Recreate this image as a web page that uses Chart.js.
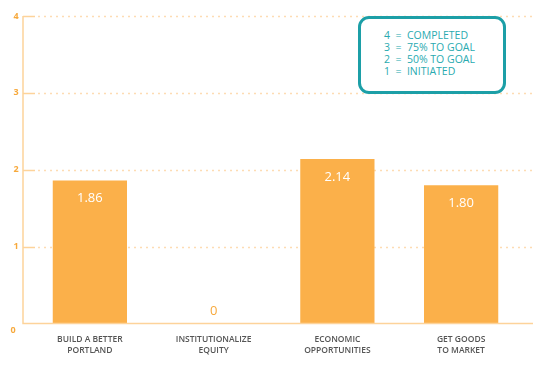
<!DOCTYPE html>
<html>
<head>
<meta charset="utf-8">
<script src="https://cdn.jsdelivr.net/npm/chart.js@4/dist/chart.umd.min.js"></script>
<style>
  html, body { margin: 0; padding: 0; background: #ffffff; }
  #wrap { position: relative; width: 540px; height: 367px; }
  canvas { display: block; }
  #legendBox {
    position: absolute; left: 358px; top: 16px; width: 142px; height: 72px;
    border: 3px solid #1c9fa7; border-radius: 11px; background: #fff;
    font-family: "Open Sans", sans-serif; font-size: 10.5px; color: #29aab0;
    line-height: 12px; box-sizing: content-box;
  }
  #legendBox .inner { position: absolute; left: 23px; top: 10px; white-space: pre; }
</style>
</head>
<body>
<div id="wrap">
  <canvas id="c" width="540" height="367"></canvas>
  <div id="legendBox"><div class="inner" id="legendText"></div></div>
</div>
<script>
const categories = [["BUILD A BETTER", "PORTLAND"], ["INSTITUTIONALIZE", "EQUITY"], ["ECONOMIC", "OPPORTUNITIES"], ["GET GOODS", "TO MARKET"]];
const values = [1.86, 0, 2.14, 1.80];
const valueLabels = ["1.86", "0", "2.14", "1.80"];
const yTicks = [0, 1, 2, 3, 4];
const legendLines = ["4  =  COMPLETED", "3  =  75% TO GOAL", "2  =  50% TO GOAL", "1  =  INITIATED"];

document.getElementById('legendText').textContent = legendLines.join('\n');

const ORANGE = '#fbb04a';
const AXIS = '#fdd39a';
const GRID = '#fddcb3';
const TICK_TEXT = '#f7a93c';

const decor = {
  id: 'decor',
  beforeDatasetsDraw(chart) {
    const ctx = chart.ctx;
    const y = chart.scales.y;
    const axisX = 23;
    const rightX = 533;
    ctx.save();
    yTicks.forEach(v => {
      if (v === 0) return;
      const py = Math.round(y.getPixelForValue(v)) + 0.5;
      ctx.strokeStyle = GRID;
      ctx.lineWidth = 1.5;
      ctx.setLineDash([2, 4]);
      ctx.beginPath(); ctx.moveTo(axisX + 15, py); ctx.lineTo(rightX, py); ctx.stroke();
      ctx.setLineDash([]);
      ctx.strokeStyle = AXIS;
      ctx.lineWidth = 1.5;
      ctx.beginPath(); ctx.moveTo(axisX, py); ctx.lineTo(axisX + 12, py); ctx.stroke();
    });
    ctx.restore();
  },
  afterDatasetsDraw(chart) {
    const ctx = chart.ctx;
    const y = chart.scales.y;
    const axisX = 23;
    const rightX = 533;
    ctx.save();
    const top = y.getPixelForValue(4);
    const base = y.getPixelForValue(0);
    ctx.strokeStyle = AXIS;
    ctx.lineWidth = 1.5;
    ctx.beginPath(); ctx.moveTo(axisX, top); ctx.lineTo(axisX, base); ctx.lineTo(rightX, base); ctx.stroke();
    // y tick labels
    ctx.fillStyle = TICK_TEXT;
    ctx.font = 'bold 9px "Open Sans", sans-serif';
    ctx.textAlign = 'center';
    ctx.textBaseline = 'middle';
    yTicks.forEach(v => {
      const py = y.getPixelForValue(v) + (v === 0 ? 7 : 0);
      ctx.fillText(String(v), v === 0 ? 13 : 16, py);
    });
    // value labels
    const meta = chart.getDatasetMeta(0);
    ctx.font = '13px "Open Sans", sans-serif';
    meta.data.forEach((bar, i) => {
      if (values[i] > 0.3) {
        ctx.fillStyle = '#ffffff';
        ctx.fillText(valueLabels[i], bar.x, bar.y + 18);
      } else {
        ctx.fillStyle = TICK_TEXT;
        ctx.fillText(valueLabels[i], bar.x, bar.y - 12);
      }
    });
    ctx.restore();
  }
};

new Chart(document.getElementById('c'), {
  type: 'bar',
  data: {
    labels: categories,
    datasets: [{
      data: values,
      backgroundColor: ORANGE,
      borderWidth: 0,
      categoryPercentage: 0.6,
      barPercentage: 1.0
    }]
  },
  options: {
    responsive: false,
    animation: false,
    devicePixelRatio: 1,
    layout: { padding: { left: 28, right: 17, top: 16, bottom: 0 } },
    plugins: { legend: { display: false }, tooltip: { enabled: false } },
    scales: {
      x: {
        grid: { display: false, drawTicks: false },
        border: { display: false },
        ticks: {
          color: '#555555',
          font: { family: '"Open Sans", sans-serif', size: 8.5, weight: '600', lineHeight: 1.26 },
          padding: 11,
          maxRotation: 0,
          autoSkip: false
        }
      },
      y: {
        display: false,
        min: 0,
        max: 4
      }
    }
  },
  plugins: [decor]
});
</script>
</body>
</html>
